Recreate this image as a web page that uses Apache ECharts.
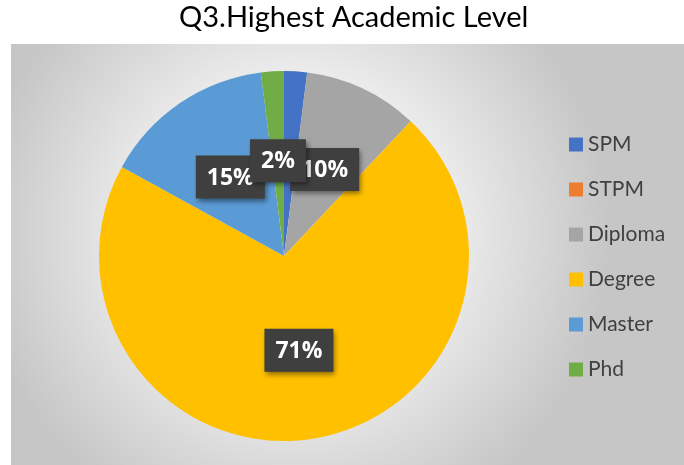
<!DOCTYPE html>
<html>
<head>
<meta charset="utf-8">
<script src="https://cdn.jsdelivr.net/npm/echarts@6/dist/echarts.min.js"></script>
<style>
  html, body { margin: 0; padding: 0; background: #fff; }
  #chart { width: 684px; height: 465px; }
</style>
</head>
<body>
<div id="chart"></div>
<script>
var categories = ['SPM', 'STPM', 'Diploma', 'Degree', 'Master', 'Phd']
var values = [2, 0, 10, 71, 15, 2]
var colors = ['#4472C4', '#ED7D31', '#A5A5A5', '#FFC000', '#5B9BD5', '#70AD47']
// Excel hides the SPM label under the Phd one, and STPM is zero
var showLabel = [false, false, true, true, true, true]

var chart = echarts.init(document.getElementById('chart'))

var data = []
for (var i = 0; i < categories.length; i++) {
  data.push({
    name: categories[i],
    value: values[i],
    itemStyle: { color: colors[i] },
    label: { show: showLabel[i] }
  })
}

chart.setOption({
  textStyle: { fontFamily: 'Lato, "Open Sans", sans-serif' },
  title: {
    text: 'Q3.Highest Academic Level',
    left: 179,
    top: 3,
    padding: 0,
    textStyle: { fontSize: 29, fontWeight: 'normal', color: '#000', fontFamily: 'Lato, "Open Sans", sans-serif' }
  },
  graphic: [{
    type: 'rect',
    silent: true,
    z: -10,
    shape: { x: 11, y: 44, width: 673, height: 421 },
    style: {
      fill: {
        type: 'radial', x: 0.42, y: 0.45, r: 0.75,
        colorStops: [
          { offset: 0, color: '#ffffff' },
          { offset: 0.5, color: '#ececec' },
          { offset: 1, color: '#c6c6c6' }
        ]
      }
    }
  }],
  legend: {
    orient: 'vertical',
    left: 569,
    top: 134,
    padding: 0,
    itemWidth: 14,
    itemHeight: 14,
    itemGap: 24,
    icon: 'rect',
    data: categories,
    textStyle: { fontSize: 21, color: '#404040', lineHeight: 21 }
  },
  series: [{
    type: 'pie',
    center: [284, 256],
    radius: 185,
    startAngle: 90,
    clockwise: true,
    avoidLabelOverlap: false,
    minShowLabelAngle: 0,
    labelLayout: { hideOverlap: false },
    label: {
      position: 'inside',
      formatter: '{d|{d}%}',
      rich: {
        d: { fontSize: 23, fontWeight: 'bold', color: '#fff', fontFamily: '"Open Sans", Lato, sans-serif' }
      },
      backgroundColor: '#3f3f3f',
      padding: [11, 11, 9, 11],
      shadowColor: 'rgba(0,0,0,0.45)',
      shadowBlur: 5,
      shadowOffsetX: 2,
      shadowOffsetY: 3
    },
    labelLine: { show: false },
    emphasis: { disabled: true },
    data: data
  }]
})
</script>
</body>
</html>
